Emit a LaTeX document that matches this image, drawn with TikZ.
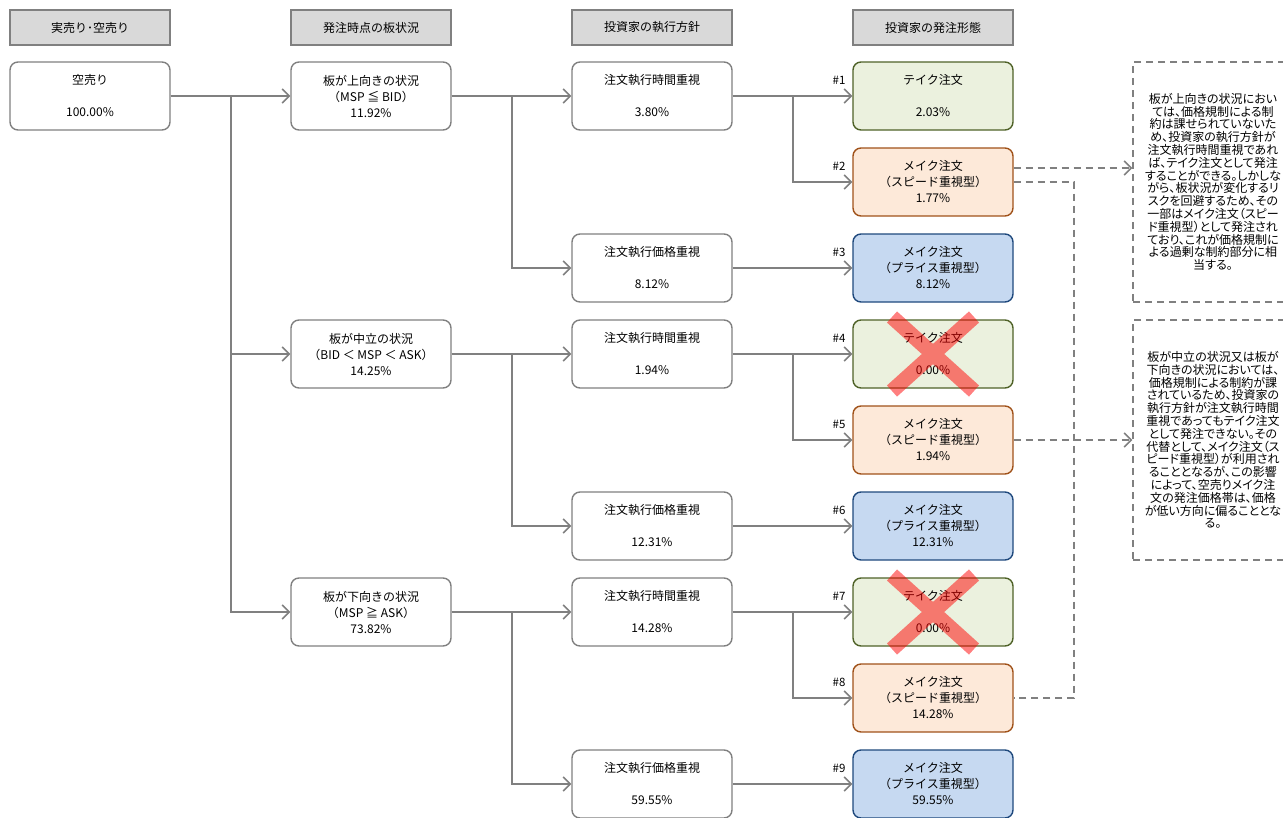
\documentclass[tikz,border=0pt]{standalone}
\usepackage{fontspec}
\setmainfont{Noto Sans CJK JP}
\newfontfamily\notefont[RawFeature=+palt]{Noto Sans CJK JP}
\usetikzlibrary{arrows.meta}

\definecolor{linegray}{HTML}{808080}
\definecolor{headfill}{HTML}{D9D9D9}
\definecolor{takefill}{HTML}{EBF1DE}
\definecolor{takeline}{HTML}{4F6228}
\definecolor{speedfill}{HTML}{FDE9D9}
\definecolor{speedline}{HTML}{A0521A}
\definecolor{pricefill}{HTML}{C6D9F1}
\definecolor{priceline}{HTML}{1F497D}

\tikzset{
	head/.style={draw=linegray,fill=headfill,line width=1.3pt,minimum width=160pt,minimum height=35pt,inner sep=0pt,font=\fontsize{12}{13}\selectfont},
	box/.style={draw=linegray,line width=1.4pt,rounded corners=8pt,minimum width=160pt,minimum height=68pt,inner sep=0pt,align=center,font=\fontsize{12}{16}\selectfont},
	take/.style={box,draw=takeline,fill=takefill},
	speed/.style={box,draw=speedline,fill=speedfill},
	price/.style={box,draw=priceline,fill=pricefill},
	tag/.style={inner sep=0pt,font=\fontsize{11.5}{12}\selectfont},
	note/.style={draw=linegray,dash pattern=on 7pt off 5pt,line width=1.3pt,minimum width=160pt,minimum height=240pt,inner sep=0pt,align=center,font=\notefont\fontsize{12}{12.8}\selectfont},
	conn/.style={draw=linegray,line width=1.6pt},
	arr/.style={conn,-{Straight Barb[length=7pt,width=14pt]}},
	dline/.style={conn,dash pattern=on 7pt off 5pt},
	darr/.style={dline,-{Straight Barb[length=7pt,width=14pt]}},
	cross/.style={draw=red,line width=15pt}
}

\begin{document}
\begin{tikzpicture}[x=1pt,y=-1pt]
	\useasboundingbox (0,0) rectangle (1283,817);

	% headers
	\node[head] (head1) at (90,27.5) {実売り･空売り};
	\node[head] (head2) at (371,27.5) {発注時点の板状況};
	\node[head] (head3) at (652,27.5) {投資家の執行方針};
	\node[head] (head4) at (933,27.5) {投資家の発注形態};

	\node[box] (root) at (90,96) {空売り\\[16pt]100.00\%};

	\node[box] (s1) at (371,96) {板が上向きの状況\\（MSP ≦ BID）\\11.92\%};
	\node[box] (s2) at (371,354) {板が中立の状況\\（BID ＜ MSP ＜ ASK）\\14.25\%};
	\node[box] (s3) at (371,612) {板が下向きの状況\\（MSP ≧ ASK）\\73.82\%};

	\node[box] (p1) at (652,96) {注文執行時間重視\\[16pt]3.80\%};
	\node[box] (p2) at (652,268) {注文執行価格重視\\[16pt]8.12\%};
	\node[box] (p3) at (652,354) {注文執行時間重視\\[16pt]1.94\%};
	\node[box] (p4) at (652,526) {注文執行価格重視\\[16pt]12.31\%};
	\node[box] (p5) at (652,612) {注文執行時間重視\\[16pt]14.28\%};
	\node[box] (p6) at (652,784) {注文執行価格重視\\[16pt]59.55\%};

	\node[take] (o1) at (933,96) {テイク注文\\[16pt]2.03\%};
	\node[speed] (o2) at (933,182) {メイク注文\\（スピード重視型）\\1.77\%};
	\node[price] (o3) at (933,268) {メイク注文\\（プライス重視型）\\8.12\%};
	\node[take] (o4) at (933,354) {テイク注文\\[16pt]0.00\%};
	\node[speed] (o5) at (933,440) {メイク注文\\（スピード重視型）\\1.94\%};
	\node[price] (o6) at (933,526) {メイク注文\\（プライス重視型）\\12.31\%};
	\node[take] (o7) at (933,612) {テイク注文\\[16pt]0.00\%};
	\node[speed] (o8) at (933,698) {メイク注文\\（スピード重視型）\\14.28\%};
	\node[price] (o9) at (933,784) {メイク注文\\（プライス重視型）\\59.55\%};

	\foreach \i/\y in {1/80,2/166,3/252,4/338,5/424,6/510,7/596,8/682,9/768}
		\node[tag] (t\i) at (839,\y) {\#\i};

	\node[note] (n1) at (1213,182) {板が上向きの状況におい\\ては、価格規制による制\\約は課せられていないた\\め、投資家の執行方針が\\注文執行時間重視であれ\\ば、テイク注文として発注\\することができる。しかしな\\がら、板状況が変化するリ\\スクを回避するため、その\\一部はメイク注文（スピー\\ド重視型）として発注され\\ており、これが価格規制に\\よる過剰な制約部分に相\\当する。};
	\node[note] (n2) at (1213,440) {板が中立の状況又は板が\\下向きの状況においては、\\価格規制による制約が課\\されているため、投資家の\\執行方針が注文執行時間\\重視であってもテイク注文\\として発注できない。その\\代替として、メイク注文（ス\\ピード重視型）が利用され\\ることとなるが、この影響\\によって、空売りメイク注\\文の発注価格帯は、価格\\が低い方向に偏ることとな\\る。};

	% branch points
	\coordinate (ja) at (231,96);
	\coordinate (jb1) at (512,96);
	\coordinate (jb2) at (512,354);
	\coordinate (jb3) at (512,612);
	\coordinate (jc1) at (793,96);
	\coordinate (jc2) at (793,354);
	\coordinate (jc3) at (793,612);
	\coordinate (jn) at (1074,440);

	\foreach \from/\via/\to in {root/ja/s1,root/ja/s2,root/ja/s3,s1/jb1/p1,s1/jb1/p2,s2/jb2/p3,s2/jb2/p4,s3/jb3/p5,s3/jb3/p6,p1/jc1/o1,p1/jc1/o2,p3/jc2/o4,p3/jc2/o5,p5/jc3/o7,p5/jc3/o8}
		\draw[arr] (\from.east) -- (\via) |- (\to.west);
	\foreach \from/\to in {p2/o3,p4/o6,p6/o9}
		\draw[arr] (\from.east) -- (\to.west);

	% dashed links to the notes
	\draw[darr] ([yshift=14pt]o2.east) -- ([yshift=14pt]o2.east -| n1.west);
	\draw[dline] (o2.east) -| (jn) |- (o8.east);
	\draw[darr] (o5.east) -- (n2.west);

	% crosses over the take orders
	\foreach \o in {o4,o7}{
		\begin{scope}[transparency group,opacity=0.5]
			\draw[cross] ([shift={(-41,-37)}]\o.center) -- ([shift={(41,37)}]\o.center);
			\draw[cross] ([shift={(-41,37)}]\o.center) -- ([shift={(41,-37)}]\o.center);
		\end{scope}
	}
\end{tikzpicture}
\end{document}
